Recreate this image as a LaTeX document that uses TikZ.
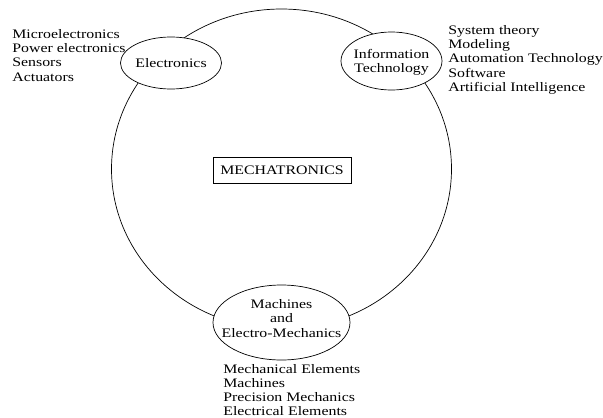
\documentclass[tikz,border=0pt]{standalone}
\usepackage{fontspec}
\setmainfont[FakeStretch=1.22]{Liberation Serif}
\usetikzlibrary{shapes.geometric}
\begin{document}
\begin{tikzpicture}[x=1pt,y=-1pt, line width=0.7pt,
  every node/.style={inner sep=0pt, font=\fontsize{13}{14.3}\selectfont},
  bubble/.style={ellipse, draw, fill=white},
  caption/.style={align=center},
  list/.style={anchor=north west, align=left}]
\useasboundingbox (0,0) rectangle (603,418);
\node[ellipse, draw, minimum width=340, minimum height=320] (ring) at (281.5,169) {};
\node[bubble, minimum width=101, minimum height=52] (elec) at (171,63) {};
\node[caption] (elect) at (elec) {Electronics};
\node[bubble, minimum width=101, minimum height=58] (info) at (391.5,61) {};
\node[caption] (infot) at (391.5,62) {Information\\Technology};
\node[bubble, minimum width=137, minimum height=75] (mach) at (281.5,322.5) {};
\node[caption] (macht) at (281.5,318.5) {Machines\\and\\Electro-Mechanics};
\node[draw, minimum width=138, minimum height=26] (mecha) at (282,170) {MECHATRONICS};
\node[list] (elist) at (12,29) {Microelectronics\\Power electronics\\Sensors\\Actuators};
\node[list] (ilist) at (448,25) {System theory\\Modeling\\Automation Technology\\Software\\Artificial Intelligence};
\node[list, font=\fontsize{13}{14}\selectfont] (mlist) at (223,364) {Mechanical Elements\\Machines\\Precision Mechanics\\Electrical Elements};
\end{tikzpicture}
\end{document}
